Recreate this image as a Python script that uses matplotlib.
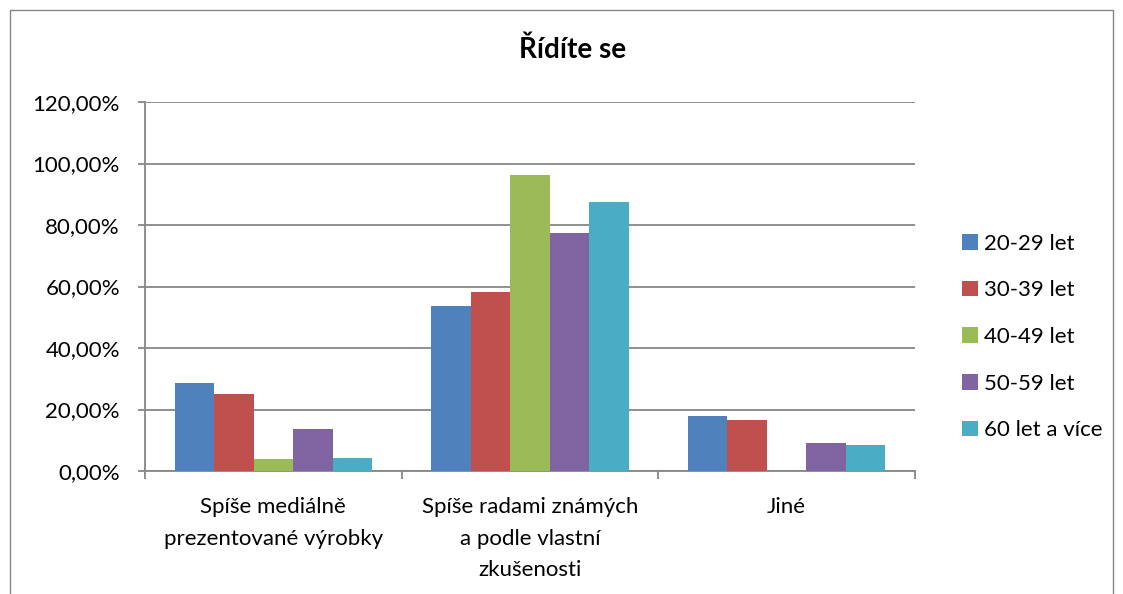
import numpy as np
import matplotlib.pyplot as plt
from matplotlib.patches import Rectangle

# odpovědi a věkové skupiny
categories = ["Spíše mediálně\nprezentované výrobky",
              "Spíše radami známých\na podle vlastní\nzkušenosti",
              "Jiné"]
groups = ["20-29 let", "30-39 let", "40-49 let", "50-59 let", "60 let a více"]
colors = ["#4f81bd", "#c0504d", "#9bbb59", "#8064a2", "#4bacc6"]

v_20_29 = [28.57, 53.57, 17.86]
v_30_39 = [25.00, 58.33, 16.67]
v_40_49 = [3.85, 96.15, 0.00]
v_50_59 = [13.64, 77.27, 9.09]
v_60 = [4.17, 87.50, 8.33]
values = [v_20_29, v_30_39, v_40_49, v_50_59, v_60]

plt.rcParams['font.family'] = ['Lato', 'DejaVu Sans']

fig = plt.figure(figsize=(11.23, 5.94), dpi=100)
W, H = 1123, 594
ax = fig.add_axes([145 / W, 1 - 471 / H, 770 / W, 369 / H])

# rámeček grafu
fig.patches.append(Rectangle((10 / W, -0.1), 1103 / W, 1.1 - 10 / H, transform=fig.transFigure,
                             fill=False, edgecolor="#868686", linewidth=1))

x = np.arange(len(categories))
w = 1 / 6.5
for i, (vals, col, lab) in enumerate(zip(values, colors, groups)):
    ax.bar(x + (i - 2) * w, vals, w, color=col, label=lab, zorder=3)

ax.set_xlim(-0.5, 2.5)
ax.set_ylim(0, 120)
ax.set_yticks(np.arange(0, 121, 20))
ax.set_yticklabels([f"{v:.2f}".replace(".", ",") + "%" for v in np.arange(0, 121, 20)])
ax.yaxis.grid(True, color="#868686", linewidth=1.3, zorder=0)
ax.set_xticks(x)
ax.set_xticklabels(categories, fontsize=16, linespacing=1.7)
ax.set_xticks([-0.5, 0.5, 1.5, 2.5], minor=True)
ax.tick_params(axis="x", which="major", length=0, pad=19)
ax.tick_params(axis="x", which="minor", length=6, color="#868686", width=1.3)
ax.tick_params(axis="y", length=5, color="#868686", width=1.3, labelsize=16, pad=13)
for s in ["top", "right"]:
    ax.spines[s].set_visible(False)
for s in ["left", "bottom"]:
    ax.spines[s].set_color("#868686")
    ax.spines[s].set_linewidth(1.3)

fig.text(573 / W, 1 - 50 / H, "Řídíte se", ha="center", va="center", fontsize=20, fontweight="bold")

ax.legend(loc="center left", bbox_to_anchor=(942 / W, 1 - 337 / H), bbox_transform=fig.transFigure,
          frameon=False, fontsize=16, handlelength=0.7, handleheight=0.7, handletextpad=0.3,
          labelspacing=1.2)

fig.savefig("out.png", dpi=100)
